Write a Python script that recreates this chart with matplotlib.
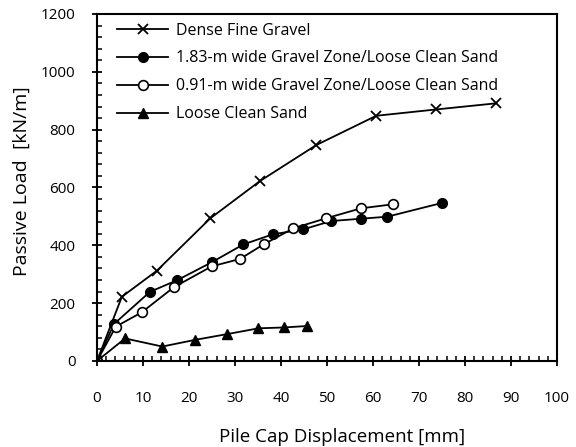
import matplotlib.pyplot as plt
from matplotlib.ticker import MultipleLocator

plt.rcParams['font.family'] = ['Open Sans', 'DejaVu Sans']

# Dense Fine Gravel
dfg_x = [0, 5.4, 13.0, 24.6, 35.4, 47.7, 60.7, 73.8, 86.7]
dfg_y = [0, 222, 312, 493, 622, 747, 848, 870, 891]

# 1.83-m wide Gravel Zone/Loose Clean Sand
g183_x = [0, 3.7, 11.5, 17.5, 24.9, 31.8, 38.2, 44.8, 50.9, 57.4, 63.1, 75.1]
g183_y = [0, 128, 239, 280, 341, 403, 438, 455, 484, 492, 499, 547]

# 0.91-m wide Gravel Zone/Loose Clean Sand
g091_x = [0, 4.1, 9.7, 16.7, 24.9, 31.1, 36.2, 42.7, 49.7, 57.4, 64.4]
g091_y = [0, 119, 168, 255, 327, 353, 403, 459, 493, 528, 542]

# Loose Clean Sand
lcs_x = [0, 6.1, 14.2, 21.3, 28.3, 35.1, 40.7, 45.7]
lcs_y = [0, 78, 50, 73, 93, 113, 116, 121]

fig = plt.figure(figsize=(5.76, 4.47), dpi=100)
ax = fig.add_axes([0.1684, 0.1924, 0.7986, 0.7763])

ax.plot(dfg_x, dfg_y, color='black', lw=1.3, marker='x', ms=7, mew=1.3,
        label='Dense Fine Gravel')
ax.plot(g183_x, g183_y, color='black', lw=1.3, marker='o', ms=7,
        label='1.83-m wide Gravel Zone/Loose Clean Sand')
ax.plot(g091_x, g091_y, color='black', lw=1.3, marker='o', ms=7, mfc='white',
        mew=1.2, label='0.91-m wide Gravel Zone/Loose Clean Sand')
ax.plot(lcs_x, lcs_y, color='black', lw=1.3, marker='^', ms=7,
        label='Loose Clean Sand')

ax.set_xlim(0, 100)
ax.set_ylim(0, 1200)
ax.xaxis.set_major_locator(MultipleLocator(10))
ax.xaxis.set_minor_locator(MultipleLocator(2))
ax.yaxis.set_major_locator(MultipleLocator(200))
ax.yaxis.set_minor_locator(MultipleLocator(40))
ax.tick_params(which='major', direction='inout', length=7, width=1.3,
               labelsize=11)
ax.tick_params(which='minor', direction='in', length=3.5, width=1.1)
ax.tick_params(axis='x', which='major', pad=18)
ax.tick_params(axis='y', which='major', pad=12)
for s in ax.spines.values():
    s.set_linewidth(1.5)

ax.set_xlabel('Pile Cap Displacement [mm]', fontsize=13.5)
ax.xaxis.set_label_coords(0.533, -0.194)
ax.set_ylabel('Passive Load  [kN/m]', fontsize=14)
ax.yaxis.set_label_coords(-0.143, 0.519)

ax.legend(loc='upper left', frameon=False, fontsize=11.5, handlelength=3.2,
          labelspacing=0.74, borderaxespad=0, borderpad=0,
          handletextpad=0.5, bbox_to_anchor=(0.0435, 0.975))

fig.savefig('out.png', dpi=100)
